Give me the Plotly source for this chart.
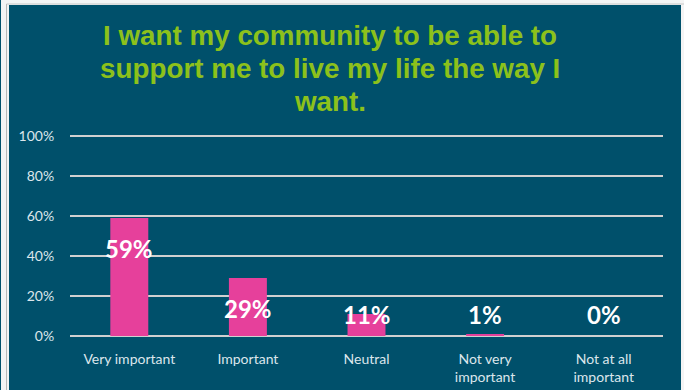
import plotly.graph_objects as go

# Survey responses
categories = ["Very important", "Important", "Neutral", "Not very<br>important", "Not at all<br>important"]
percentages = [59, 29, 11, 1, 0]
y_ticks = [0, 20, 40, 60, 80, 100]
y_tick_text = [f"{t}%" for t in y_ticks]
title_lines = [
    "I want my community to be able to",
    "support me to live my life the way I",
    "want.",
]

BG = "#00506B"
PINK = "#E6409B"
GREEN = "#8CC11B"
LIGHT = "#DCE6EC"

W, H = 684, 390
Y_MAX = 102
L, R, B = 70, 21, 54
T = H - B - int(round(200 * Y_MAX / 100))
pw, ph = W - L - R, H - T - B

def px_to_paper_x(px):
    return (px - L) / pw

def px_to_paper_y(py):
    return (H - B - py) / ph

fig = go.Figure()
fig.add_trace(go.Bar(
    x=categories, y=percentages,
    marker=dict(color=PINK, line=dict(width=0)),
    hoverinfo="skip",
))

# value labels, kept inside the bar top or just above the baseline
for c, v in zip(categories, percentages):
    fig.add_annotation(
        x=c, y=max(v - 15, 11), xref="x", yref="y",
        text=f"{v}%", showarrow=False, yanchor="middle",
        font=dict(family="Lato", size=24, color="white", weight="bold"),
    )

# chart title, one line per annotation for tight line spacing
for i, line in enumerate(title_lines):
    fig.add_annotation(
        x=px_to_paper_x(330), y=px_to_paper_y(36 + 32.8 * i),
        xref="paper", yref="paper",
        text=line, showarrow=False, xanchor="center", yanchor="middle",
        font=dict(family="Liberation Sans", size=27.8, color=GREEN, weight="bold"),
    )

# framed teal panel
shapes = [
    dict(type="rect", xref="paper", yref="paper", layer="below",
         x0=px_to_paper_x(9), x1=px_to_paper_x(681),
         y0=px_to_paper_y(391), y1=px_to_paper_y(5),
         fillcolor=BG, line=dict(width=0)),
    dict(type="rect", xref="paper", yref="paper", layer="below",
         x0=px_to_paper_x(0), x1=px_to_paper_x(1),
         y0=px_to_paper_y(391), y1=px_to_paper_y(0),
         fillcolor=BG, line=dict(width=0)),
    dict(type="line", xref="paper", yref="paper", layer="below",
         x0=px_to_paper_x(6.5), x1=px_to_paper_x(6.5),
         y0=px_to_paper_y(391), y1=px_to_paper_y(4),
         line=dict(color="#B8B8B8", width=1)),
    dict(type="line", xref="paper", yref="paper", layer="below",
         x0=px_to_paper_x(6.5), x1=px_to_paper_x(684),
         y0=px_to_paper_y(4), y1=px_to_paper_y(4),
         line=dict(color="#C8C8C8", width=1)),
]

fig.update_layout(
    width=W, height=H,
    margin=dict(l=L, r=R, t=T, b=B, pad=0, autoexpand=False),
    paper_bgcolor="#F4F4F4",
    plot_bgcolor=BG,
    shapes=shapes,
    showlegend=False,
    bargap=0.68,
    xaxis=dict(
        automargin=False,
        showgrid=False, zeroline=False, showline=False,
        ticks="outside", ticklen=10, tickcolor="rgba(0,0,0,0)",
        tickfont=dict(family="Lato", size=14, color=LIGHT),
    ),
    yaxis=dict(
        automargin=False,
        range=[0, Y_MAX], tickvals=y_ticks, ticktext=y_tick_text,
        showgrid=True, gridcolor="#D0D0D0", gridwidth=2,
        zeroline=True, zerolinecolor="#D0D0D0", zerolinewidth=2,
        showline=False,
        ticks="outside", ticklen=12, tickcolor="rgba(0,0,0,0)",
        tickfont=dict(family="Lato", size=14, color=LIGHT),
    ),
)

fig.write_html("out.html")
